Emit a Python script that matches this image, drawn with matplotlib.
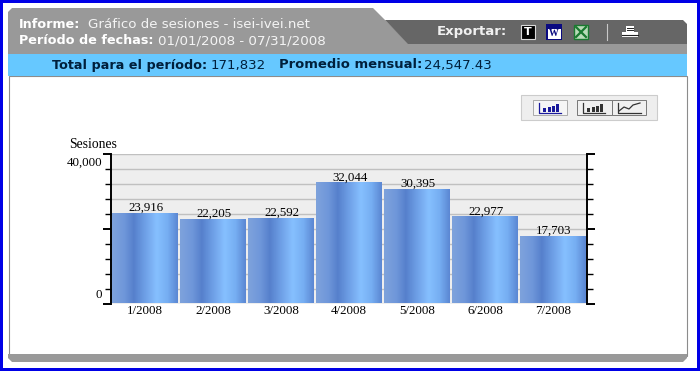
# _*_ coding: utf-8 _*_
import numpy as np
import matplotlib
matplotlib.use('Agg')
import matplotlib.pyplot as plt
from matplotlib.colors import LinearSegmentedColormap
from matplotlib.patches import Polygon, Rectangle

# Datos
meses = ['1/2008', '2/2008', '3/2008', '4/2008', '5/2008', '6/2008', '7/2008']
sesiones = [23916, 22205, 22592, 32044, 30395, 22977, 17703]
ticks_mayores = [0, 20000, 40000]
ticks_menores = [4000, 8000, 12000, 16000, 24000, 28000, 32000, 36000]
lineas_guia = [4000, 8000, 12000, 16000, 20000, 24000, 28000, 32000, 36000, 40000]

VERDANA = 'DejaVu Sans'
SERIF = 'Liberation Serif'

fig = plt.figure(figsize=(7, 3.71), dpi=100)

# Marco de la pagina, en pixeles
fondo = fig.add_axes([0, 0, 1, 1], zorder=0)
fondo.set_xlim(0, 700)
fondo.set_ylim(371, 0)
fondo.axis('off')

fondo.add_patch(Rectangle((0, 0), 700, 371, fc='#0000e6', ec='none'))
fondo.add_patch(Rectangle((3, 3), 694, 365, fc='white', ec='none'))
fondo.add_patch(Rectangle((8.5, 76), 678, 280, fc='white', ec='#8c8c8c', lw=0.8))

# Barra inferior
fondo.add_patch(Polygon([(8, 354), (687, 354), (687, 358), (683, 362), (12, 362), (8, 358)],
                        fc='#999999', ec='none'))

# Cabecera
fondo.add_patch(Polygon([(8, 12), (12, 8), (373, 8), (409, 44), (687, 44), (687, 54), (8, 54)],
                        fc='#999999', ec='none'))
fondo.add_patch(Polygon([(385, 20), (683, 20), (687, 24), (687, 44), (408, 44)],
                        fc='#666666', ec='none'))
fondo.add_patch(Rectangle((8, 54), 679, 22, fc='#66c8ff', ec='none'))

fondo.text(19, 25, 'Informe:', color='white', fontsize=9.15, fontweight='bold', family=VERDANA, va='center')
fondo.text(88, 25, 'Gráfico de sesiones - isei-ivei.net', color='#f4f4f4', fontsize=9.6, family=VERDANA, va='center')
fondo.text(19, 41, 'Período de fechas:', color='white', fontsize=9.15, fontweight='bold', family=VERDANA, va='center')
fondo.text(158, 41, '01/01/2008 - 07/31/2008', color='#f4f4f4', fontsize=9.7, family=VERDANA, va='center')
fondo.text(437, 32, 'Exportar:', color='#f0f0f0', fontsize=9.5, fontweight='bold', family=VERDANA, va='center')

fondo.text(52, 65, 'Total para el período:', color='#00203c', fontsize=9.15, fontweight='bold', family=VERDANA, va='center')
fondo.text(211, 65, '171,832', color='#00203c', fontsize=9.6, family=VERDANA, va='center')
fondo.text(279, 65, 'Promedio mensual:', color='#00203c', fontsize=9.45, fontweight='bold', family=VERDANA, va='center')
fondo.text(424, 65, '24,547.43', color='#00203c', fontsize=9.6, family=VERDANA, va='center')

# Iconos de exportar
fondo.add_patch(Rectangle((521, 25), 14, 14, fc='black', ec='#d8d8d8', lw=0.8))
fondo.text(528, 32, 'T', color='white', fontsize=8, fontweight='bold', family=VERDANA, ha='center', va='center')
fondo.add_patch(Rectangle((546, 24), 16, 16, fc='#0a0a80', ec='none'))
fondo.add_patch(Rectangle((547.5, 29), 13, 9.5, fc='white', ec='none'))
fondo.text(554, 33.5, 'W', color='#0a0a80', fontsize=7, fontweight='bold', family=SERIF, ha='center', va='center')
fondo.add_patch(Rectangle((574, 25), 14, 14, fc='#b8dcb8', ec='#1a7a30', lw=1))
fondo.plot([576, 586], [27, 37], color='#1a7a30', lw=1.6)
fondo.plot([586, 576], [27, 37], color='#1a7a30', lw=1.6)
fondo.plot([607, 607], [24, 40], color='#c8c8c8', lw=0.8)
fondo.add_patch(Rectangle((626, 25.5), 8, 7, fc='white', ec='none'))
fondo.plot([627, 633], [28, 28], color='#222222', lw=0.7)
fondo.plot([627, 633], [30, 30], color='#222222', lw=0.7)
fondo.add_patch(Rectangle((622, 32), 16, 5, fc='white', ec='none'))
fondo.plot([622, 638], [35, 35], color='#222222', lw=0.8)

# Botones del tipo de grafico
fondo.add_patch(Rectangle((521, 95), 136, 25, fc='#eeeeee', ec='#cccccc', lw=0.8))
fondo.add_patch(Rectangle((533, 100), 34, 15, fc='#f6f6f6', ec='#aaaaaa', lw=0.7))
for x0, ancho in [(577, 35), (612, 34)]:
    fondo.add_patch(Rectangle((x0, 100), ancho, 15, fc='#f0f0f0', ec='#777777', lw=0.7))
for x0, color in [(538.5, '#1a1a9c'), (583, '#333333')]:
    fondo.plot([x0, x0, x0 + 22], [103, 112.5, 112.5], color=color, lw=0.9)
    for dx, h in [(4, 4), (9, 5), (13, 6), (17, 8)]:
        fondo.add_patch(Rectangle((x0 + dx, 112 - h), 3, h, fc=color, ec='none'))
fondo.plot([618, 618, 641], [103, 112.5, 112.5], color='#333333', lw=0.9)
fondo.plot([619, 624, 629, 633, 640], [111, 107, 109, 105, 103], color='#333333', lw=0.9)

fondo.text(69, 144.5, 'Sesiones', fontsize=9.8, family=SERIF, color='black', va='center')

# Grafico de barras
ax = fig.add_axes([111 / 700, (371 - 303.5) / 371, 476 / 700, 150 / 371], zorder=1)
ax.set_facecolor('#eeeeee')

degradado = LinearSegmentedColormap.from_list(
    'barra', [(0, '#7ea2dc'), (0.18, '#6f97da'), (0.33, '#5680cc'), (0.5, '#6e9fe6'),
              (0.68, '#86c0ff'), (0.85, '#76aef2'), (1, '#5c88d4')])
x = np.arange(len(meses))
barras = ax.bar(x, sesiones, width=0.97, color='none', zorder=2)
for b in barras:
    ax.imshow(np.linspace(0, 1, 68).reshape(1, -1), cmap=degradado, aspect='auto', zorder=2,
              extent=[b.get_x(), b.get_x() + b.get_width(), 0, b.get_height()])
for xi, v in zip(x, sesiones):
    ax.annotate(f'{v:,}', (xi, v), xytext=(0.5, 0), textcoords='offset points', ha='center', va='bottom',
                fontsize=9.3, family=SERIF, color='black', zorder=3)

ax.set_xlim(-0.5, len(meses) - 0.5)
ax.set_ylim(0, 40000)
ax.hlines(lineas_guia, -0.5, len(meses) - 0.5, color='#c0c0c0', lw=1, zorder=1)

ax.set_xticks(x)
ax.set_xticklabels(meses, fontsize=9.3, family=SERIF)
ax.tick_params(axis='x', length=0, pad=1)

ax.set_yticks(ticks_mayores)
ax.set_yticklabels([])
ax.set_yticks(ticks_menores, minor=True)
ax.tick_params(axis='y', which='major', left=True, right=True, length=6, width=1.4)
ax.tick_params(axis='y', which='minor', left=True, right=True, length=4, width=1)

# Las etiquetas del eje Y van desplazadas respecto a su marca
borde_y = ax.get_yaxis_transform()
ax.annotate('40,000', (0, 40000), xycoords=borde_y, xytext=(-6.5, -2.5), textcoords='offset points',
            ha='right', va='top', fontsize=9.3, family=SERIF)
ax.annotate('0', (0, 0), xycoords=borde_y, xytext=(-6.5, 1.5), textcoords='offset points',
            ha='right', va='bottom', fontsize=9.3, family=SERIF)

for lado in ['top', 'bottom']:
    ax.spines[lado].set_visible(False)
for lado in ['left', 'right']:
    ax.spines[lado].set_linewidth(1.4)

fig.savefig('out.png', dpi=100)
